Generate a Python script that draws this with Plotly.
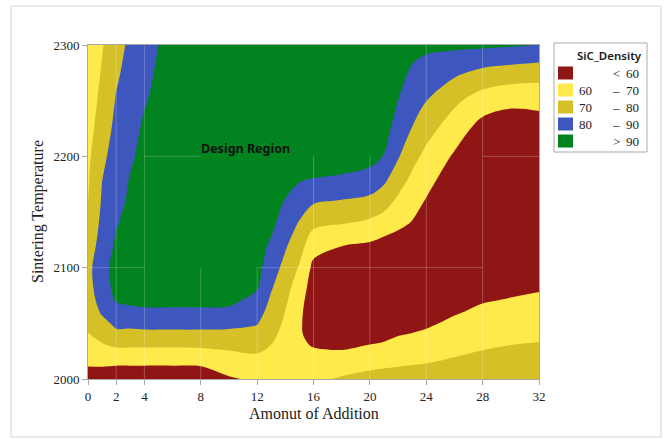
import numpy as np
import plotly.graph_objects as go

# Grid of the density surface
addition = [0, 1, 2, 3, 4, 6, 8, 10, 12, 13, 14, 15, 16, 18, 20, 21, 22, 23, 24, 26, 28, 30, 32]
temperature = [2000, 2010, 2020, 2030, 2040, 2050, 2060, 2070, 2080, 2100,
               2120, 2140, 2160, 2180, 2200, 2225, 2250, 2275, 2300]

# SiC density along temperature (2000 -> 2300), one profile per addition level
density_profiles = [
    [55, 59.6, 62.9, 66.1, 69.4, 72.5, 74, 75, 76, 77, 75, 72, 69.7, 69, 68, 66, 64.6, 63.3, 62],            # 0
    [55, 59.5, 64.3, 69, 73.2, 77.2, 81.2, 84, 86, 87, 83.9, 82.4, 81, 79.8, 78, 75.3, 72.9, 70.9, 69.3],    # 1
    [56, 59, 64, 71.3, 77.8, 82, 86.4, 90.4, 92, 93, 91.5, 89.3, 87, 85.3, 83.8, 82.3, 80.65, 78.6, 76.4],   # 2
    [56, 59, 64, 71.2, 77.2, 82.5, 87.4, 91.5, 92.5, 94, 94, 93, 91.6, 90.5, 88.6, 86.8, 84.6, 83.3, 82],    # 3
    [56, 59, 64, 71.3, 77.5, 83.2, 88.4, 92, 93, 95, 95, 95, 94, 94, 93, 91.4, 89.3, 87.5, 86],              # 4
    [56, 59, 64, 71.3, 77.5, 83.2, 88.4, 92, 94, 96, 97, 97, 97, 97, 97, 96, 95, 95, 94],                    # 6
    [56.5, 59.2, 64.5, 71.5, 77.5, 83.2, 88.4, 92, 94, 96, 97, 98, 98, 98, 98, 98, 98, 97, 97],              # 8
    [59, 63, 67.4, 72.1, 77.4, 82.6, 87.9, 92, 93, 95, 97, 98, 98, 98, 98, 98, 98, 98, 98],                  # 10
    [61.5, 65, 68.8, 72.8, 76.8, 80.6, 83.8, 86.9, 90, 93, 94, 96, 97, 98, 98, 98, 98, 98, 98],              # 12
    [63, 65.5, 67.8, 69.8, 71.9, 74, 76.2, 78.3, 80.4, 84.4, 88.4, 92.4, 95, 97, 98, 98, 98, 98, 98],        # 13
    [63, 64.1, 65.3, 66.4, 67.5, 68.6, 69.8, 71.5, 73.4, 77.2, 81.1, 85.3, 89.6, 93, 95, 97, 98, 98, 98],    # 14
    [63, 62.5, 62, 61.5, 61, 61, 61.5, 62.5, 64, 69, 74.1, 79.2, 85.5, 91, 94, 96, 97, 98, 98],              # 15
    [68, 65, 62.5, 59.5, 57, 56, 55.5, 55.5, 56, 57.6, 63.75, 72.3, 81.3, 89.9, 94, 96, 97, 97, 98],         # 16
    [71, 67, 62.6, 58.3, 55, 53, 52, 52, 52.5, 55, 60.2, 70.5, 79.5, 89, 94, 96, 97, 97, 97],                # 18
    [73, 69.1, 64.8, 60.4, 56, 53, 51, 50, 50, 51, 58.6, 68.1, 77.6, 86.8, 93, 96, 97, 97, 97],              # 20
    [74, 69.8, 65.7, 61.6, 57, 54, 52, 50, 50, 51, 56.4, 65.5, 74.2, 82.2, 89.6, 94, 96, 97, 97],            # 21
    [74, 70.4, 66.7, 63, 59.5, 56, 54, 52, 51, 51.5, 55.5, 62.1, 68.2, 74.8, 80.9, 85.5, 90, 93, 95],        # 22
    [75, 70.9, 67.4, 64, 60.5, 57, 55, 53, 52, 51, 54, 59.5, 63.8, 68.1, 73, 79.7, 84.2, 88.6, 93],          # 23
    [75, 71.3, 68, 64.8, 61.6, 58.5, 56, 54, 52.5, 50.5, 52.5, 55.5, 59.4, 63.5, 67.6, 73.5, 80.2, 86.1, 92],  # 24
    [76, 73, 69.9, 67.3, 64.6, 61.9, 59.2, 57, 55, 52, 50, 50, 51.5, 54.5, 58.8, 65, 71.9, 81.7, 92],        # 26
    [77, 74, 71.4, 69, 66.7, 64.3, 61.9, 59.5, 57, 53, 50, 48, 48, 49.5, 52, 56.3, 65, 77.5, 91.8],          # 28
    [78, 75, 72.3, 70.1, 67.7, 65.3, 63, 60.7, 58.5, 54, 50.5, 48, 47, 48, 50, 54.5, 62.2, 75.5, 91],        # 30
    [79, 76, 73, 70.7, 68.5, 66.3, 64, 61.8, 59.6, 55, 51, 48.5, 47, 48, 50, 55, 62.9, 74, 90],              # 32
]

levels = [60, 70, 80, 90]
band_colors = ["#901515", "#ffea4b", "#d5c027", "#3d57bf", "#01831f"]

x_ticks = [0, 2, 4, 8, 12, 16, 20, 24, 28, 32]
y_ticks = [2000, 2100, 2200, 2300]

z = np.array(density_profiles).T

W, H = 667, 439
L, R, T, B = 88, 539, 45, 379


def px_x(px):
    return (px - L) / (R - L)


def px_y(py):
    return (B - py) / (B - T)


fig = go.Figure()

fig.add_trace(go.Contour(
    x=addition, y=temperature, z=z,
    autocontour=False,
    contours=dict(start=levels[0], end=levels[-1], size=levels[1] - levels[0],
                  coloring="fill", showlines=False),
    line=dict(width=0),
    colorscale=[[i / (len(band_colors) - 1), c] for i, c in enumerate(band_colors)],
    showscale=False,
    hoverinfo="skip",
))

shapes = []
# faint reference lines over the contour field
grid_color = "rgba(255,255,255,0.24)"
v_segments = [(2, 2000, 2300), (4, 2000, 2300), (8, 2000, 2100), (12, 2000, 2100),
              (16, 2000, 2200), (20, 2000, 2200), (24, 2000, 2300), (28, 2000, 2300)]
h_segments = [(2100, 0, 4), (2100, 12, 28), (2200, 4, 8), (2200, 28, 32)]
for xv, y0, y1 in v_segments:
    shapes.append(dict(type="line", xref="x", yref="y", x0=xv, x1=xv, y0=y0, y1=y1,
                       line=dict(color=grid_color, width=1), layer="above"))
for yv, x0, x1 in h_segments:
    shapes.append(dict(type="line", xref="x", yref="y", x0=x0, x1=x1, y0=yv, y1=yv,
                       line=dict(color=grid_color, width=1), layer="above"))

# outer frame
shapes.append(dict(type="rect", xref="paper", yref="paper",
                   x0=px_x(11), x1=px_x(661), y0=px_y(437), y1=px_y(6),
                   line=dict(color="#d4d4d4", width=1), fillcolor="rgba(0,0,0,0)"))

# legend box and swatches
shapes.append(dict(type="rect", xref="paper", yref="paper",
                   x0=px_x(554), x1=px_x(647), y0=px_y(152), y1=px_y(43),
                   line=dict(color="#a8a8a8", width=1), fillcolor="white"))

serif = "Liberation Serif"
annotations = []
row_centers = [73, 90, 107, 124, 141]
bounds = [None] + levels + [None]
for i, color in enumerate(band_colors):
    cy = row_centers[i]
    shapes.append(dict(type="rect", xref="paper", yref="paper",
                       x0=px_x(558), x1=px_x(573), y0=px_y(cy + 6.5), y1=px_y(cy - 6.5),
                       line=dict(width=0), fillcolor=color))
    lo, hi = bounds[i], bounds[i + 1]
    if lo is None:
        sym, right_val, left_val = "<", hi, None
    elif hi is None:
        sym, right_val, left_val = ">", lo, None
    else:
        sym, right_val, left_val = "\u2013", hi, lo
    annotations.append(dict(xref="paper", yref="paper", x=px_x(616), y=px_y(cy),
                            text=sym, showarrow=False, xanchor="center", yanchor="middle",
                            font=dict(family=serif, size=13, color="#222")))
    annotations.append(dict(xref="paper", yref="paper", x=px_x(641), y=px_y(cy),
                            text=str(right_val), showarrow=False, xanchor="right", yanchor="middle",
                            font=dict(family=serif, size=13, color="#222")))
    if left_val is not None:
        annotations.append(dict(xref="paper", yref="paper", x=px_x(577), y=px_y(cy),
                                text=str(left_val), showarrow=False, xanchor="left", yanchor="middle",
                                font=dict(family=serif, size=13, color="#222")))

annotations.append(dict(xref="paper", yref="paper", x=px_x(609), y=px_y(55),
                        text="SiC_Density", showarrow=False, xanchor="center", yanchor="middle",
                        font=dict(family="Noto Sans", size=11.5, color="#1a1a1a", weight=600)))

# axis titles
annotations.append(dict(xref="paper", yref="paper", x=0.5, y=px_y(413),
                        text="Amonut of Addition", showarrow=False,
                        xanchor="center", yanchor="middle",
                        font=dict(family=serif, size=16, color="#222")))
annotations.append(dict(xref="paper", yref="paper", x=px_x(38), y=0.5,
                        text="Sintering Temperature", showarrow=False, textangle=-90,
                        xanchor="center", yanchor="middle",
                        font=dict(family=serif, size=16, color="#222")))

# region label
annotations.append(dict(xref="x", yref="y", x=11.2, y=2207,
                        text="<b>Design Region</b>", showarrow=False,
                        xanchor="center", yanchor="middle",
                        font=dict(family="Noto Sans", size=12.5, color="#111")))

axis_common = dict(showgrid=False, zeroline=False, showline=True, mirror=True,
                   linecolor="#a8a8a8", linewidth=1, ticks="outside", ticklen=5,
                   tickcolor="#a8a8a8", tickfont=dict(family=serif, size=13, color="#222"))

fig.update_layout(
    width=W, height=H,
    margin=dict(l=L, r=W - R, t=T, b=H - B),
    paper_bgcolor="white", plot_bgcolor="white",
    xaxis=dict(range=[0, 32], tickvals=x_ticks, **axis_common),
    yaxis=dict(range=[2000, 2300], tickvals=y_ticks, **axis_common),
    shapes=shapes,
    annotations=annotations,
    showlegend=False,
)

fig.write_html("out.html")
